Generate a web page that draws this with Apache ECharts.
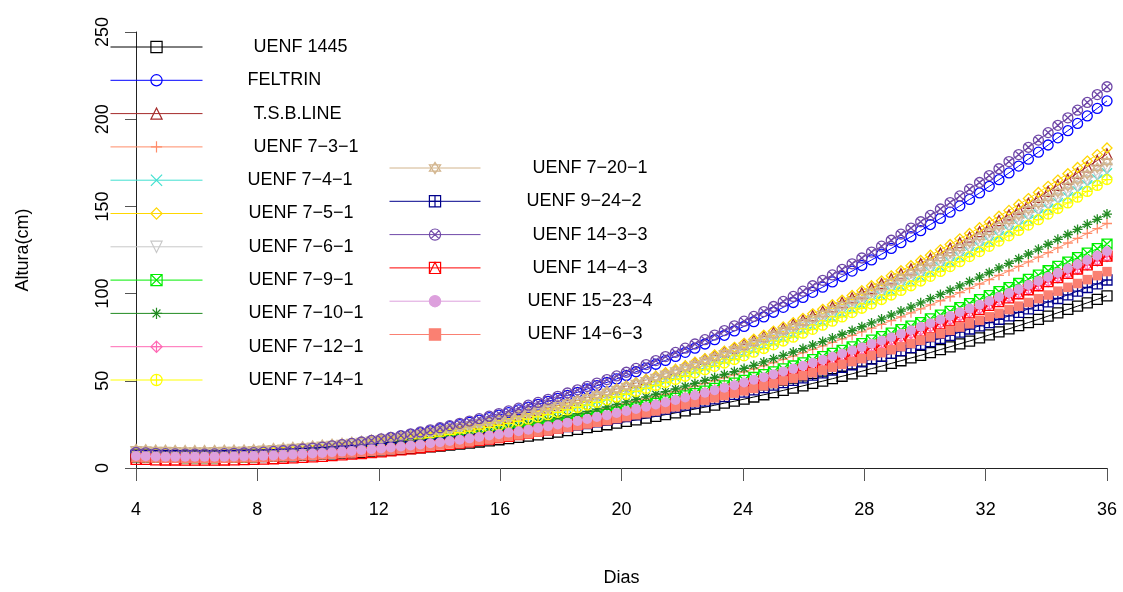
<!DOCTYPE html>
<html><head><meta charset="utf-8">
<script src="https://cdn.jsdelivr.net/npm/echarts@6/dist/echarts.min.js"></script>
<style>html,body{margin:0;padding:0;background:#fff}#c{width:1123px;height:592px}</style>
</head><body><div id="c"></div>
<script>
// ---------- DATA ----------
const days = [4.00,4.32,4.65,4.97,5.29,5.62,5.94,6.26,6.59,6.91,
7.23,7.56,7.88,8.20,8.53,8.85,9.17,9.49,9.82,10.14,
10.46,10.79,11.11,11.43,11.76,12.08,12.40,12.73,13.05,13.37,
13.70,14.02,14.34,14.67,14.99,15.31,15.64,15.96,16.28,16.61,
16.93,17.25,17.58,17.90,18.22,18.55,18.87,19.19,19.52,19.84,
20.16,20.48,20.81,21.13,21.45,21.78,22.10,22.42,22.75,23.07,
23.39,23.72,24.04,24.36,24.69,25.01,25.33,25.66,25.98,26.30,
26.63,26.95,27.27,27.60,27.92,28.24,28.57,28.89,29.21,29.54,
29.86,30.18,30.51,30.83,31.15,31.47,31.80,32.12,32.44,32.77,
33.09,33.41,33.74,34.06,34.38,34.71,35.03,35.35,35.68,36.00];
const xTicks = [4,8,12,16,20,24,28,32,36];
const yTicks = [0,50,100,150,200,250];

const uenf1445 = [6.4,6.3,6.2,6.1,6.1,6.0,6.0,6.0,6.0,6.1,
6.2,6.2,6.4,6.5,6.7,6.8,7.0,7.3,7.5,7.8,
8.1,8.4,8.7,9.0,9.4,9.8,10.2,10.7,11.1,11.6,
12.1,12.6,13.2,13.7,14.3,14.9,15.6,16.2,16.9,17.6,
18.3,19.0,19.8,20.6,21.4,22.2,23.1,23.9,24.8,25.7,
26.7,27.6,28.6,29.6,30.6,31.6,32.7,33.8,34.9,36.0,
37.2,38.3,39.5,40.7,42.0,43.2,44.5,45.8,47.1,48.5,
49.8,51.2,52.6,54.0,55.5,57.0,58.4,60.0,61.5,63.1,
64.6,66.2,67.9,69.5,71.2,72.8,74.6,76.3,78.0,79.8,
81.6,83.4,85.2,87.1,89.0,90.9,92.8,94.7,96.7,98.7];
const feltrin = [8.9,8.6,8.4,8.2,8.1,8.0,8.0,8.0,8.1,8.2,
8.3,8.5,8.8,9.1,9.4,9.8,10.3,10.7,11.3,11.9,
12.5,13.2,13.9,14.6,15.5,16.3,17.2,18.2,19.2,20.2,
21.3,22.5,23.7,24.9,26.2,27.5,28.9,30.3,31.8,33.3,
34.9,36.5,38.2,39.9,41.6,43.4,45.3,47.2,49.1,51.1,
53.1,55.2,57.3,59.5,61.7,64.0,66.3,68.7,71.1,73.6,
76.1,78.6,81.2,83.9,86.6,89.3,92.1,94.9,97.8,100.7,
103.7,106.7,109.8,112.9,116.1,119.3,122.6,125.9,129.2,132.6,
136.1,139.6,143.1,146.7,150.3,154.0,157.7,161.5,165.3,169.2,
173.1,177.1,181.1,185.2,189.3,193.4,197.6,201.9,206.2,210.5];
const tsbLine = [9.8,9.5,9.3,9.2,9.1,9.0,9.0,9.0,9.1,9.2,
9.3,9.5,9.7,9.9,10.2,10.5,10.9,11.3,11.8,12.3,
12.8,13.4,14.0,14.6,15.3,16.0,16.8,17.6,18.4,19.3,
20.3,21.2,22.2,23.3,24.4,25.5,26.6,27.8,29.1,30.4,
31.7,33.1,34.5,35.9,37.4,38.9,40.5,42.1,43.7,45.4,
47.1,48.9,50.7,52.5,54.4,56.3,58.3,60.3,62.3,64.4,
66.5,68.6,70.8,73.1,75.3,77.7,80.0,82.4,84.8,87.3,
89.8,92.4,95.0,97.6,100.3,103.0,105.7,108.5,111.4,114.2,
117.2,120.1,123.1,126.1,129.2,132.3,135.5,138.6,141.9,145.1,
148.4,151.8,155.2,158.6,162.1,165.6,169.1,172.7,176.3,180.0];
const uenf731 = [7.6,7.4,7.3,7.2,7.1,7.0,7.0,7.0,7.1,7.1,
7.2,7.4,7.5,7.7,7.9,8.2,8.5,8.8,9.2,9.5,
10.0,10.4,10.9,11.4,11.9,12.5,13.1,13.7,14.4,15.0,
15.8,16.5,17.3,18.1,19.0,19.8,20.7,21.7,22.6,23.6,
24.7,25.7,26.8,28.0,29.1,30.3,31.5,32.8,34.0,35.3,
36.7,38.1,39.5,40.9,42.3,43.8,45.4,46.9,48.5,50.1,
51.8,53.5,55.2,56.9,58.7,60.5,62.3,64.2,66.1,68.0,
70.0,72.0,74.0,76.0,78.1,80.2,82.4,84.5,86.7,89.0,
91.2,93.5,95.9,98.2,100.6,103.0,105.5,108.0,110.5,113.0,
115.6,118.2,120.9,123.5,126.2,129.0,131.7,134.5,137.3,140.2];
const uenf741 = [7.7,7.5,7.3,7.2,7.1,7.0,7.0,7.0,7.1,7.1,
7.3,7.4,7.6,7.9,8.1,8.5,8.8,9.2,9.6,10.1,
10.6,11.1,11.7,12.3,13.0,13.7,14.4,15.1,15.9,16.8,
17.7,18.6,19.5,20.5,21.5,22.6,23.7,24.9,26.0,27.2,
28.5,29.8,31.1,32.5,33.9,35.3,36.8,38.3,39.9,41.5,
43.1,44.8,46.5,48.2,50.0,51.8,53.7,55.6,57.5,59.5,
61.5,63.5,65.6,67.7,69.9,72.0,74.3,76.5,78.9,81.2,
83.6,86.0,88.5,91.0,93.5,96.0,98.7,101.3,104.0,106.7,
109.5,112.3,115.1,118.0,120.9,123.8,126.8,129.8,132.9,136.0,
139.1,142.3,145.5,148.7,152.0,155.3,158.7,162.1,165.5,169.0];
const uenf751 = [8.8,8.5,8.4,8.2,8.1,8.0,8.0,8.0,8.1,8.2,
8.3,8.5,8.7,8.9,9.2,9.6,10.0,10.4,10.8,11.3,
11.9,12.5,13.1,13.8,14.5,15.2,16.0,16.8,17.7,18.6,
19.6,20.5,21.6,22.6,23.8,24.9,26.1,27.3,28.6,29.9,
31.3,32.7,34.1,35.6,37.1,38.7,40.3,41.9,43.6,45.3,
47.1,48.9,50.8,52.6,54.6,56.5,58.6,60.6,62.7,64.8,
67.0,69.2,71.5,73.8,76.1,78.5,80.9,83.3,85.8,88.4,
91.0,93.6,96.2,98.9,101.7,104.5,107.3,110.2,113.1,116.0,
119.0,122.0,125.1,128.2,131.4,134.5,137.8,141.1,144.4,147.7,
151.1,154.5,158.0,161.5,165.1,168.7,172.3,176.0,179.7,183.5];
const uenf761 = [8.7,8.5,8.3,8.2,8.1,8.0,8.0,8.0,8.1,8.2,
8.3,8.4,8.6,8.9,9.2,9.5,9.8,10.2,10.7,11.1,
11.6,12.2,12.8,13.4,14.0,14.7,15.5,16.2,17.0,17.9,
18.8,19.7,20.7,21.7,22.7,23.8,24.9,26.1,27.2,28.5,
29.7,31.0,32.4,33.8,35.2,36.6,38.1,39.7,41.2,42.9,
44.5,46.2,47.9,49.7,51.5,53.3,55.2,57.1,59.0,61.0,
63.1,65.1,67.2,69.4,71.6,73.8,76.0,78.3,80.7,83.0,
85.4,87.9,90.4,92.9,95.4,98.0,100.7,103.4,106.1,108.8,
111.6,114.4,117.3,120.2,123.1,126.1,129.1,132.2,135.3,138.4,
141.6,144.8,148.0,151.3,154.6,158.0,161.4,164.8,168.3,171.8];
const uenf791 = [6.5,6.4,6.2,6.1,6.1,6.0,6.0,6.0,6.0,6.1,
6.2,6.3,6.5,6.7,6.9,7.1,7.4,7.7,8.0,8.3,
8.7,9.1,9.6,10.0,10.5,11.0,11.6,12.2,12.8,13.4,
14.1,14.7,15.5,16.2,17.0,17.8,18.6,19.5,20.4,21.3,
22.2,23.2,24.2,25.3,26.3,27.4,28.5,29.7,30.8,32.0,
33.3,34.5,35.8,37.1,38.5,39.9,41.3,42.7,44.1,45.6,
47.1,48.7,50.3,51.9,53.5,55.1,56.8,58.5,60.3,62.1,
63.9,65.7,67.5,69.4,71.3,73.3,75.3,77.3,79.3,81.3,
83.4,85.5,87.7,89.8,92.0,94.3,96.5,98.8,101.1,103.4,
105.8,108.2,110.6,113.1,115.6,118.1,120.6,123.2,125.8,128.4];
const uenf7101 = [7.6,7.4,7.3,7.2,7.1,7.0,7.0,7.0,7.1,7.1,
7.2,7.4,7.5,7.7,8.0,8.2,8.5,8.9,9.2,9.6,
10.1,10.5,11.0,11.5,12.1,12.7,13.3,14.0,14.7,15.4,
16.1,16.9,17.7,18.6,19.4,20.4,21.3,22.3,23.3,24.3,
25.4,26.5,27.6,28.8,30.0,31.2,32.5,33.8,35.1,36.5,
37.9,39.3,40.8,42.3,43.8,45.3,46.9,48.5,50.2,51.9,
53.6,55.3,57.1,58.9,60.8,62.7,64.6,66.5,68.5,70.5,
72.5,74.6,76.7,78.8,81.0,83.2,85.4,87.7,90.0,92.3,
94.7,97.1,99.5,101.9,104.4,106.9,109.5,112.1,114.7,117.3,
120.0,122.7,125.5,128.3,131.1,133.9,136.8,139.7,142.6,145.6];
const uenf7121 = [6.5,6.4,6.2,6.1,6.1,6.0,6.0,6.0,6.0,6.1,
6.2,6.3,6.5,6.6,6.8,7.0,7.3,7.6,7.9,8.2,
8.6,8.9,9.3,9.8,10.2,10.7,11.2,11.8,12.4,13.0,
13.6,14.2,14.9,15.6,16.3,17.1,17.9,18.7,19.5,20.4,
21.3,22.2,23.2,24.1,25.1,26.1,27.2,28.3,29.4,30.5,
31.7,32.9,34.1,35.3,36.6,37.9,39.2,40.5,41.9,43.3,
44.7,46.2,47.7,49.2,50.7,52.3,53.8,55.5,57.1,58.8,
60.5,62.2,63.9,65.7,67.5,69.3,71.2,73.1,75.0,76.9,
78.9,80.8,82.9,84.9,87.0,89.1,91.2,93.3,95.5,97.7,
99.9,102.2,104.5,106.8,109.1,111.5,113.9,116.3,118.7,121.2];
const uenf7141 = [7.7,7.5,7.3,7.2,7.1,7.0,7.0,7.0,7.1,7.1,
7.3,7.4,7.6,7.9,8.1,8.4,8.8,9.1,9.6,10.0,
10.5,11.0,11.6,12.2,12.8,13.5,14.2,15.0,15.7,16.6,
17.4,18.3,19.3,20.2,21.2,22.3,23.3,24.5,25.6,26.8,
28.0,29.3,30.6,31.9,33.3,34.7,36.1,37.6,39.1,40.7,
42.3,43.9,45.6,47.3,49.0,50.8,52.6,54.5,56.4,58.3,
60.2,62.2,64.3,66.4,68.5,70.6,72.8,75.0,77.3,79.5,
81.9,84.2,86.6,89.1,91.6,94.1,96.6,99.2,101.8,104.5,
107.2,109.9,112.7,115.5,118.3,121.2,124.1,127.1,130.1,133.1,
136.2,139.3,142.4,145.6,148.8,152.0,155.3,158.6,162.0,165.4];
const uenf7201 = [10.7,10.5,10.3,10.2,10.1,10.0,10.0,10.0,10.1,10.2,
10.3,10.4,10.6,10.9,11.2,11.5,11.9,12.2,12.7,13.2,
13.7,14.2,14.8,15.4,16.1,16.8,17.5,18.3,19.1,20.0,
20.9,21.8,22.8,23.8,24.9,26.0,27.1,28.3,29.5,30.7,
32.0,33.3,34.7,36.1,37.5,39.0,40.5,42.0,43.6,45.2,
46.9,48.6,50.3,52.1,53.9,55.8,57.7,59.6,61.6,63.6,
65.7,67.8,69.9,72.0,74.3,76.5,78.8,81.1,83.5,85.8,
88.3,90.8,93.3,95.8,98.4,101.0,103.7,106.4,109.1,111.9,
114.7,117.6,120.5,123.4,126.4,129.4,132.5,135.5,138.7,141.8,
145.0,148.3,151.6,154.9,158.2,161.6,165.1,168.5,172.1,175.6];
const uenf9242 = [7.4,7.3,7.2,7.1,7.1,7.0,7.0,7.0,7.0,7.1,
7.2,7.3,7.4,7.5,7.7,7.9,8.1,8.4,8.6,8.9,
9.2,9.6,9.9,10.3,10.7,11.1,11.6,12.1,12.6,13.1,
13.6,14.2,14.8,15.4,16.1,16.7,17.4,18.1,18.8,19.6,
20.4,21.2,22.0,22.9,23.7,24.6,25.5,26.5,27.5,28.4,
29.5,30.5,31.6,32.6,33.8,34.9,36.0,37.2,38.4,39.6,
40.9,42.2,43.5,44.8,46.1,47.5,48.9,50.3,51.7,53.2,
54.6,56.2,57.7,59.2,60.8,62.4,64.0,65.7,67.3,69.0,
70.8,72.5,74.3,76.0,77.9,79.7,81.5,83.4,85.3,87.2,
89.2,91.2,93.2,95.2,97.2,99.3,101.4,103.5,105.6,107.8];
const uenf1433 = [8.9,8.7,8.4,8.2,8.1,8.0,8.0,8.0,8.1,8.2,
8.4,8.6,8.8,9.1,9.5,9.9,10.4,10.9,11.4,12.0,
12.7,13.4,14.1,14.9,15.8,16.7,17.6,18.6,19.6,20.7,
21.9,23.1,24.3,25.6,26.9,28.3,29.7,31.2,32.7,34.3,
36.0,37.6,39.4,41.1,43.0,44.8,46.8,48.7,50.7,52.8,
54.9,57.1,59.3,61.6,63.9,66.3,68.7,71.1,73.6,76.2,
78.8,81.5,84.2,86.9,89.7,92.6,95.5,98.4,101.4,104.5,
107.6,110.7,113.9,117.1,120.4,123.8,127.2,130.6,134.1,137.6,
141.2,144.8,148.5,152.2,156.0,159.9,163.7,167.7,171.6,175.7,
179.7,183.9,188.0,192.3,196.5,200.8,205.2,209.6,214.1,218.6];
const uenf1443 = [5.0,4.9,4.7,4.6,4.6,4.5,4.5,4.5,4.5,4.6,
4.7,4.8,5.0,5.1,5.3,5.6,5.8,6.1,6.4,6.7,
7.1,7.5,7.9,8.3,8.8,9.3,9.8,10.4,11.0,11.6,
12.2,12.9,13.5,14.3,15.0,15.8,16.6,17.4,18.2,19.1,
20.0,21.0,21.9,22.9,23.9,25.0,26.0,27.1,28.2,29.4,
30.6,31.8,33.0,34.3,35.5,36.9,38.2,39.6,41.0,42.4,
43.8,45.3,46.8,48.3,49.9,51.5,53.1,54.7,56.4,58.1,
59.8,61.6,63.3,65.1,67.0,68.8,70.7,72.6,74.5,76.5,
78.5,80.5,82.6,84.6,86.7,88.9,91.0,93.2,95.4,97.6,
99.9,102.2,104.5,106.9,109.2,111.6,114.1,116.5,119.0,121.5];
const uenf15234 = [6.9,6.8,6.6,6.5,6.5,6.4,6.4,6.4,6.4,6.5,
6.6,6.7,6.9,7.0,7.2,7.5,7.7,8.0,8.3,8.6,
9.0,9.4,9.8,10.3,10.7,11.2,11.8,12.3,12.9,13.5,
14.2,14.8,15.5,16.2,17.0,17.8,18.6,19.4,20.3,21.1,
22.0,23.0,24.0,24.9,26.0,27.0,28.1,29.2,30.3,31.5,
32.7,33.9,35.1,36.4,37.7,39.0,40.4,41.7,43.1,44.6,
46.0,47.5,49.0,50.6,52.1,53.7,55.4,57.0,58.7,60.4,
62.1,63.9,65.7,67.5,69.3,71.2,73.1,75.0,77.0,79.0,
81.0,83.0,85.1,87.2,89.3,91.4,93.6,95.8,98.0,100.3,
102.5,104.9,107.2,109.5,111.9,114.4,116.8,119.3,121.8,124.3];
const uenf1463 = [6.0,5.8,5.7,5.6,5.6,5.5,5.5,5.5,5.5,5.6,
5.7,5.8,5.9,6.1,6.3,6.5,6.7,7.0,7.2,7.5,
7.9,8.2,8.6,9.0,9.4,9.9,10.4,10.9,11.4,12.0,
12.5,13.2,13.8,14.4,15.1,15.8,16.6,17.3,18.1,18.9,
19.7,20.6,21.4,22.3,23.3,24.2,25.2,26.2,27.2,28.3,
29.4,30.5,31.6,32.7,33.9,35.1,36.4,37.6,38.9,40.2,
41.5,42.9,44.2,45.6,47.1,48.5,50.0,51.5,53.0,54.6,
56.1,57.7,59.4,61.0,62.7,64.4,66.1,67.8,69.6,71.4,
73.2,75.1,77.0,78.9,80.8,82.7,84.7,86.7,88.7,90.8,
92.8,94.9,97.1,99.2,101.4,103.6,105.8,108.0,110.3,112.6];

const names = ["UENF 1445","FELTRIN","T.S.B.LINE","UENF 7\u22123\u22121","UENF 7\u22124\u22121",
  "UENF 7\u22125\u22121","UENF 7\u22126\u22121","UENF 7\u22129\u22121","UENF 7\u221210\u22121",
  "UENF 7\u221212\u22121","UENF 7\u221214\u22121","UENF 7\u221220\u22121","UENF 9\u221224\u22122",
  "UENF 14\u22123\u22123","UENF 14\u22124\u22123","UENF 15\u221223\u22124","UENF 14\u22126\u22123"];
const values = [uenf1445,feltrin,tsbLine,uenf731,uenf741,uenf751,uenf761,uenf791,uenf7101,
  uenf7121,uenf7141,uenf7201,uenf9242,uenf1433,uenf1443,uenf15234,uenf1463];

// ---------- STYLE ----------
const FONT = "'Liberation Sans', Arial, sans-serif";
const SYM = {
  sq: 'path://M1,1H19V19H1Z',
  circ: 'path://M1,10A9,9 0 1,0 19,10A9,9 0 1,0 1,10Z',
  tri: 'path://M10,1L19,18H1Z',
  plus: 'path://M10,0V20M0,10H20',
  cross: 'path://M1,1L19,19M19,1L1,19',
  diam: 'path://M10,0L20,10L10,20L0,10Z',
  tridown: 'path://M1,2H19L10,19Z',
  sqx: 'path://M1,1H19V19H1Z M1,1L19,19M19,1L1,19',
  ast: 'path://M10,0V20M0,10H20M3,3L17,17M17,3L3,17',
  diamplus: 'path://M10,0L20,10L10,20L0,10Z M10,0V20M0,10H20',
  circplus: 'path://M1,10A9,9 0 1,0 19,10A9,9 0 1,0 1,10Z M10,1V19M1,10H19',
  star: 'path://M10,0L19,15.5H1Z M10,20L1,4.5H19Z',
  sqplus: 'path://M1,1H19V19H1Z M10,1V19M1,10H19',
  circx: 'path://M1,10A9,9 0 1,0 19,10A9,9 0 1,0 1,10Z M3.6,3.6L16.4,16.4M16.4,3.6L3.6,16.4',
  sqtri: 'path://M1,1H19V19H1Z M1,19L10,1L19,19'
};
const styles = [
  {c:'#000000', s:SYM.sq},
  {c:'#0000FF', s:SYM.circ},
  {c:'#A52A2A', s:SYM.tri},
  {c:'#FF8C69', s:SYM.plus},
  {c:'#40E0D0', s:SYM.cross},
  {c:'#FFD700', s:SYM.diam},
  {c:'#C8C8C8', s:SYM.tridown},
  {c:'#00EE00', s:SYM.sqx},
  {c:'#228B22', s:SYM.ast},
  {c:'#FF69B4', s:SYM.diamplus},
  {c:'#FFFF00', s:SYM.circplus},
  {c:'#D2B48C', s:SYM.star},
  {c:'#00008B', s:SYM.sqplus},
  {c:'#7048A8', s:SYM.circx},
  {c:'#FF0000', s:SYM.sqtri},
  {c:'#DDA0DD', s:'circle', fill:true, size:10, z:3},
  {c:'#FA8072', s:'rect', fill:true, size:9.5}
];
const textPad = [46,40,46,46,40,41,41,41,41,41,41, 47,41,47,47,42,42];

const series = values.map((arr, i) => {
  const st = styles[i];
  return {
    name: names[i],
    type: 'line',
    z: st.z || 2,
    data: days.map((d, k) => [d, arr[k]]),
    symbol: st.s,
    symbolSize: st.size || 10,
    showAllSymbol: true,
    lineStyle: {color: st.c, width: 1},
    itemStyle: st.fill ? {color: st.c, borderColor: st.c, borderWidth: 0}
                       : {color: 'rgba(0,0,0,0)', borderColor: st.c, borderWidth: 1.3},
    emphasis: {disabled: true},
    animation: false
  };
});

function legendBlock(from, to, left, top, width) {
  return {
    data: names.slice(from, to).map((n, j) => ({name: n, textStyle: {padding: [0, 0, 0, textPad[from + j]]}})),
    orient: 'vertical', left: left, top: top, padding: 0,
    itemWidth: width, itemHeight: 14, itemGap: 15.3,
    selectedMode: false,
    itemStyle: {borderWidth: 1.2},
    lineStyle: {width: 1},
    textStyle: {fontSize: 18, color: '#000', fontFamily: FONT, lineHeight: 18}
  };
}

const chart = echarts.init(document.getElementById('c'), null, {renderer: 'canvas'});
chart.setOption({
  animation: false,
  backgroundColor: '#fff',
  grid: {left: 136, right: 16, top: 32, bottom: 119, containLabel: false},
  legend: [legendBlock(0, 11, 110, 38, 92), legendBlock(11, 17, 389, 159, 91)],
  xAxis: {
    type: 'value', min: xTicks[0], max: xTicks[xTicks.length - 1], interval: xTicks[1] - xTicks[0],
    axisLine: {show: true, onZero: false, lineStyle: {color: '#222', width: 1}},
    axisTick: {show: true, length: 13, lineStyle: {color: '#555'}},
    axisLabel: {fontSize: 18, color: '#000', fontFamily: FONT, margin: 33},
    splitLine: {show: false},
    name: 'Dias', nameLocation: 'middle', nameGap: 101,
    nameTextStyle: {fontSize: 18, color: '#000', fontFamily: FONT}
  },
  yAxis: {
    type: 'value', min: yTicks[0], max: yTicks[yTicks.length - 1], interval: yTicks[1] - yTicks[0],
    axisLine: {show: true, onZero: false, lineStyle: {color: '#222', width: 1}},
    axisTick: {show: true, length: 11, lineStyle: {color: '#555'}},
    axisLabel: {fontSize: 18, color: '#000', fontFamily: FONT, margin: 24, rotate: 90},
    splitLine: {show: false},
    name: 'Altura(cm)', nameLocation: 'middle', nameGap: 104, nameRotate: 90,
    nameTextStyle: {fontSize: 18, color: '#000', fontFamily: FONT}
  },
  series: series
});
</script></body></html>
